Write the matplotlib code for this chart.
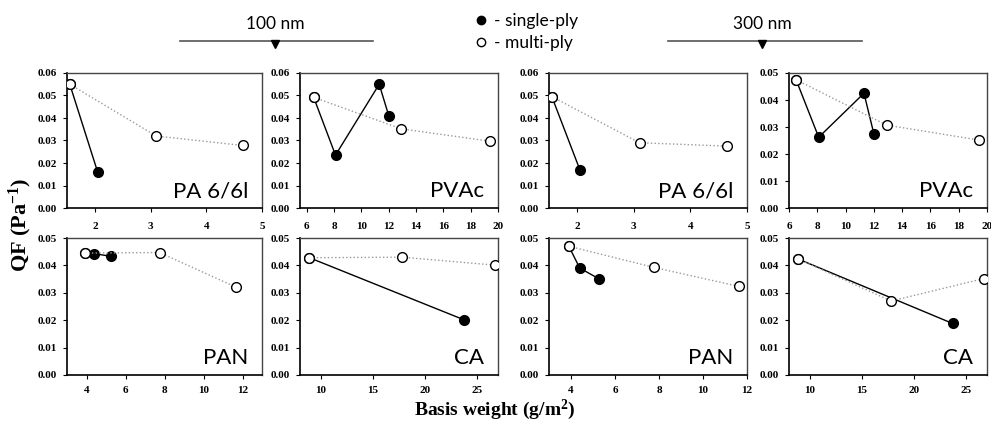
import matplotlib
matplotlib.use('Agg')
import matplotlib.pyplot as plt
from matplotlib.lines import Line2D
from matplotlib.ticker import FormatStrFormatter

plt.rcParams['mathtext.fontset'] = 'custom'
plt.rcParams['mathtext.rm'] = 'Liberation Serif:bold'
plt.rcParams['mathtext.it'] = 'Liberation Serif:bold'
plt.rcParams['mathtext.bf'] = 'Liberation Serif:bold'

# panel names, order: 100 nm (cols 1-2), 300 nm (cols 3-4); top row, bottom row
names = ['PA 6/6l', 'PVAc', 'PA 6/6l', 'PVAc', 'PAN', 'CA', 'PAN', 'CA']

# multi-ply series
multi_x = [[1.55, 3.1, 4.65], [6.5, 12.9, 19.4], [1.55, 3.1, 4.65], [6.5, 12.9, 19.4],
           [3.9, 7.75, 11.65], [8.9, 17.8, 26.7], [3.9, 7.75, 11.65], [8.9, 17.8, 26.7]]
multi_y = [[0.055, 0.032, 0.0278], [0.0492, 0.0352, 0.0297], [0.0495, 0.029, 0.0275],
           [0.0475, 0.0307, 0.0252], [0.0445, 0.0447, 0.0321], [0.0428, 0.043, 0.0401],
           [0.047, 0.0393, 0.0323], [0.0423, 0.027, 0.0352]]

# single-ply series (starting from the first multi-ply point)
single_x = [[1.55, 2.05], [6.5, 8.1, 11.3, 12.0], [1.55, 2.05], [6.5, 8.1, 11.3, 12.0],
            [3.9, 4.4, 5.25], [8.9, 23.7], [3.9, 4.4, 5.25], [8.9, 23.7]]
single_y = [[0.055, 0.016], [0.0492, 0.0235, 0.055, 0.041], [0.0495, 0.0167],
            [0.0475, 0.0262, 0.0425, 0.0275], [0.0445, 0.0443, 0.0433], [0.0428, 0.0202],
            [0.047, 0.039, 0.0352], [0.0423, 0.0188]]

xlims = [(1.5, 5), (5.5, 20), (1.5, 5), (6, 20), (3, 13), (8, 27), (3, 12), (8, 27)]
xticks = [[2, 3, 4, 5], range(6, 21, 2), [2, 3, 4, 5], range(6, 21, 2),
          range(4, 13, 2), range(10, 26, 5), range(4, 13, 2), range(10, 26, 5)]
ytop = [0.06, 0.06, 0.06, 0.05, 0.05, 0.05, 0.05, 0.05]

W, H = 991, 423
fig = plt.figure(figsize=(W / 100, H / 100), dpi=100)

cols = [(67, 262), (300, 498), (549, 747), (789, 987)]
rows = [(73, 208), (238, 375)]
label_font = ['Lato', 'DejaVu Sans']

for i in range(8):
    r, c = divmod(i, 4)
    x0, x1 = cols[c]
    y0, y1 = rows[r]
    ax = fig.add_axes([x0 / W, 1 - y1 / H, (x1 - x0) / W, (y1 - y0) / H])
    ax.plot(single_x[i], single_y[i], '-o', color='black', lw=1, ms=7,
            mfc='black', mec='black', zorder=3)
    ax.plot(multi_x[i], multi_y[i], ':o', color='#999999', lw=1, ms=7,
            mfc='white', mec='black', mew=1, zorder=4)
    ax.set_xlim(*xlims[i])
    ax.set_ylim(0, ytop[i])
    ax.set_xticks(list(xticks[i]))
    n = int(round(ytop[i] / 0.01))
    ax.set_yticks([k * 0.01 for k in range(n + 1)])
    ax.yaxis.set_major_formatter(FormatStrFormatter('%.2f'))
    ax.tick_params(direction='out', length=3, width=0.8, labelsize=8)
    ax.tick_params(axis='x', pad=7 if r == 0 else 5)
    ax.tick_params(axis='y', pad=4)
    for lab in ax.get_xticklabels() + ax.get_yticklabels():
        lab.set_fontfamily('Liberation Serif')
        lab.set_fontweight('bold')
    for s in ['left', 'bottom']:
        ax.spines[s].set_color('black')
        ax.spines[s].set_linewidth(1.2)
    for s in ['top', 'right']:
        ax.spines[s].set_color('#444444')
        ax.spines[s].set_linewidth(1.0)
    ax.text(0.93, 0.08, names[i], transform=ax.transAxes, ha='right', va='baseline',
            fontsize=16, family=label_font)

# axis titles
fig.text(20 / W, 1 - 225 / H, r'QF (Pa$^{\mathbf{-1}}$)', rotation=90, ha='center', va='center',
         fontsize=16, fontweight='bold', family='Liberation Serif')
fig.text(495 / W, 1 - 410 / H, r'Basis weight (g/m$^{\mathbf{2}}$)', ha='center', va='center',
         fontsize=14, fontweight='bold', family='Liberation Serif')

# header: group markers
for xc, x0, x1, txt in [(275, 180, 373, '100 nm'), (762, 668, 862, '300 nm')]:
    fig.text(xc / W, 1 - 24 / H, txt, ha='center', va='center', fontsize=12.5, family=label_font)
    fig.add_artist(Line2D([x0 / W, x1 / W], [1 - 41 / H, 1 - 41 / H], color='#555555', lw=1.2))
    fig.add_artist(Line2D([xc / W], [1 - 44 / H], marker='v', color='black', ms=6, lw=0))

handles = [Line2D([], [], marker='o', color='black', mfc='black', lw=0, ms=6),
           Line2D([], [], marker='o', color='black', mfc='white', lw=0, ms=6)]
leg = fig.legend(handles, ['- single-ply', '- multi-ply'], loc='center',
                 bbox_to_anchor=(527 / W, 1 - 32 / H), frameon=False, handlelength=0.6,
                 handletextpad=0.4, labelspacing=0.3, prop={'family': label_font, 'size': 12.5})

fig.savefig('out.png', dpi=100)
